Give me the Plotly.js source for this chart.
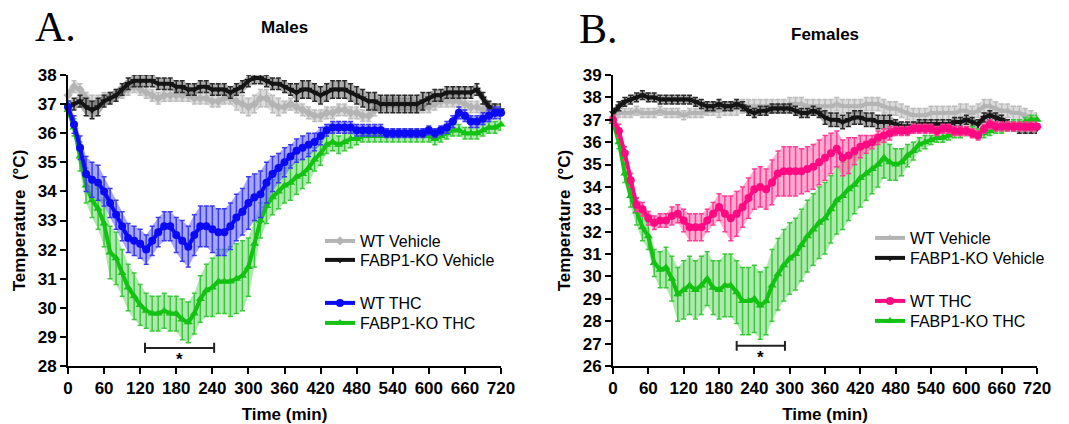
<!DOCTYPE html>
<html><head><meta charset="utf-8">
<script src="https://cdn.plot.ly/plotly-3.0.1.min.js"></script>
<style>html,body{margin:0;padding:0;background:#fff}#chart{width:1069px;height:424px}</style>
</head><body><div id="chart"></div><script>
// time points (min)
const time = [0,10,20,30,40,50,60,70,80,90,100,110,120,130,140,150,160,170,180,190,200,210,220,230,240,250,260,270,280,290,300,310,320,330,340,350,360,370,380,390,400,410,420,430,440,450,460,470,480,490,500,510,520,530,540,550,560,570,580,590,600,610,620,630,640,650,660,670,680,690,700,710,720];
const xTicks = [0,60,120,180,240,300,360,420,480,540,600,660,720];

// ---------- Males ----------
const mWTVeh = [37.3,37.6,37.5,37.2,37.0,37.1,37.2,37.2,37.3,37.4,
  37.5,37.6,37.5,37.4,37.3,37.2,37.3,37.3,37.3,37.3,
  37.3,37.2,37.2,37.2,37.1,37.1,37.2,37.2,37.1,37.0,
  36.9,37.0,37.2,37.2,37.0,36.9,36.9,37.0,36.9,36.8,
  36.7,36.6,36.6,36.7,36.7,36.8,36.8,36.7,36.7,36.6,
  36.6,36.8,37.0,37.1,37.1,37.0,37.0,37.0,36.9,36.9,
  36.9,37.0,37.1,37.1,37.1,37.1,37.0,36.9,36.9,36.8,
  36.8,36.8,36.7];
const mWTVehErr = [0.2,0.2,0.2,0.2,0.3,0.2,0.2,0.2,0.2,0.2,
  0.2,0.2,0.2,0.2,0.2,0.2,0.2,0.2,0.2,0.2,
  0.2,0.2,0.2,0.2,0.2,0.2,0.2,0.2,0.3,0.3,
  0.3,0.3,0.3,0.3,0.3,0.3,0.2,0.2,0.2,0.2,
  0.2,0.2,0.2,0.2,0.2,0.2,0.2,0.2,0.2,0.2,
  0.2,0.2,0.2,0.2,0.2,0.2,0.2,0.2,0.2,0.2,
  0.2,0.2,0.2,0.2,0.2,0.2,0.2,0.2,0.2,0.2,
  0.2,0.2,0.2];
const mKOVeh = [36.9,37.0,37.1,36.9,36.8,36.9,37.1,37.2,37.3,37.5,
  37.7,37.8,37.8,37.8,37.8,37.7,37.7,37.7,37.6,37.6,
  37.5,37.5,37.6,37.6,37.5,37.5,37.5,37.4,37.5,37.6,
  37.8,37.9,37.9,37.8,37.7,37.7,37.6,37.5,37.4,37.5,
  37.5,37.4,37.3,37.4,37.5,37.5,37.5,37.4,37.3,37.2,
  37.1,37.1,37.0,37.0,37.0,37.0,37.0,37.0,37.0,37.1,
  37.2,37.3,37.3,37.4,37.4,37.4,37.4,37.4,37.5,37.2,
  36.9,36.8,36.8];
const mKOVehErr = [0.2,0.2,0.2,0.3,0.3,0.3,0.2,0.2,0.2,0.2,
  0.2,0.2,0.2,0.2,0.2,0.2,0.2,0.2,0.2,0.2,
  0.2,0.2,0.2,0.2,0.2,0.2,0.2,0.2,0.2,0.2,
  0.2,0.2,0.2,0.2,0.2,0.2,0.2,0.2,0.3,0.3,
  0.3,0.3,0.3,0.3,0.3,0.3,0.3,0.3,0.3,0.3,
  0.3,0.3,0.3,0.3,0.3,0.3,0.3,0.3,0.3,0.3,
  0.2,0.2,0.2,0.2,0.2,0.2,0.2,0.2,0.2,0.2,
  0.2,0.2,0.2];
const mWTTHC = [36.9,36.3,35.5,34.6,34.4,34.3,34.0,33.6,33.2,32.8,
  32.4,32.3,32.2,32.0,32.3,32.6,32.8,32.8,32.5,32.3,
  32.1,32.5,32.8,32.8,32.7,32.6,32.6,32.8,33.1,33.3,
  33.6,33.8,33.9,34.3,34.6,34.8,35.0,35.2,35.4,35.5,
  35.6,35.7,35.9,36.1,36.2,36.2,36.2,36.2,36.1,36.1,
  36.1,36.1,36.1,36.0,36.0,36.0,36.0,36.0,36.0,36.0,
  36.1,36.0,36.1,36.2,36.4,36.7,36.6,36.4,36.4,36.5,
  36.6,36.7,36.7];
const mWTTHCErr = [0.2,0.3,0.4,0.6,0.6,0.6,0.5,0.5,0.5,0.5,
  0.5,0.5,0.5,0.5,0.5,0.5,0.5,0.5,0.6,0.7,
  0.7,0.7,0.7,0.7,0.8,0.8,0.8,0.8,0.8,0.8,
  0.9,0.8,0.8,0.7,0.6,0.5,0.5,0.4,0.4,0.4,
  0.4,0.3,0.3,0.2,0.2,0.2,0.2,0.2,0.2,0.2,
  0.2,0.2,0.2,0.15,0.15,0.15,0.15,0.15,0.15,0.15,
  0.15,0.15,0.15,0.2,0.2,0.2,0.2,0.2,0.2,0.2,
  0.2,0.2,0.2];
const mKOTHC = [36.8,36.2,35.2,34.2,33.7,33.4,32.9,31.9,31.7,31.2,
  30.7,30.4,30.1,29.9,29.8,29.8,29.9,29.8,29.8,29.6,
  29.5,29.8,30.3,30.6,30.7,30.9,30.9,30.9,31.0,31.1,
  31.4,32.2,33.0,33.5,33.8,34.0,34.2,34.3,34.5,34.6,
  34.8,35.1,35.3,35.6,35.7,35.6,35.7,35.8,35.8,35.9,
  35.9,35.9,35.9,35.9,35.9,35.9,35.9,35.9,35.9,35.9,
  35.9,35.8,35.9,36.0,36.1,36.1,36.0,36.0,36.0,36.1,
  36.2,36.2,36.3];
const mKOTHCErr = [0.2,0.3,0.5,0.6,0.6,0.7,0.8,0.9,0.9,0.8,
  0.8,0.8,0.7,0.6,0.6,0.6,0.6,0.6,0.6,0.7,
  0.7,0.7,0.8,0.9,1.0,1.1,1.1,1.2,1.2,1.2,
  1.0,0.8,0.6,0.6,0.6,0.6,0.6,0.6,0.6,0.5,
  0.5,0.4,0.4,0.3,0.3,0.3,0.3,0.3,0.2,0.2,
  0.2,0.2,0.2,0.2,0.2,0.2,0.2,0.2,0.2,0.2,
  0.2,0.2,0.2,0.2,0.2,0.2,0.2,0.2,0.2,0.2,
  0.2,0.2,0.2];

// ---------- Females ----------
const fWTVeh = [37.2,37.3,37.3,37.3,37.4,37.3,37.3,37.3,37.4,37.3,
  37.3,37.3,37.2,37.3,37.3,37.3,37.4,37.4,37.4,37.5,
  37.5,37.5,37.6,37.6,37.6,37.6,37.6,37.6,37.6,37.6,
  37.7,37.7,37.7,37.6,37.6,37.6,37.6,37.6,37.7,37.6,
  37.6,37.6,37.6,37.7,37.7,37.7,37.6,37.5,37.5,37.4,
  37.3,37.2,37.2,37.2,37.3,37.3,37.3,37.3,37.3,37.4,
  37.4,37.3,37.4,37.6,37.6,37.5,37.4,37.4,37.3,37.3,
  37.2,37.1,37.0];
const fWTVehErr = [0.2,0.2,0.2,0.2,0.2,0.2,0.2,0.2,0.2,0.2,
  0.2,0.2,0.2,0.2,0.2,0.2,0.2,0.2,0.3,0.3,
  0.3,0.3,0.3,0.3,0.3,0.3,0.3,0.3,0.3,0.3,
  0.3,0.3,0.3,0.3,0.3,0.3,0.3,0.3,0.3,0.3,
  0.3,0.3,0.3,0.3,0.3,0.3,0.3,0.3,0.3,0.3,
  0.3,0.3,0.3,0.3,0.3,0.3,0.3,0.3,0.3,0.3,
  0.3,0.3,0.3,0.3,0.3,0.3,0.3,0.3,0.3,0.3,
  0.3,0.3,0.3];
const fKOVeh = [37.3,37.6,37.8,37.9,38.0,38.1,38.0,38.0,37.9,37.9,
  37.9,37.9,37.9,37.9,37.8,37.7,37.6,37.6,37.7,37.6,
  37.6,37.7,37.6,37.4,37.3,37.4,37.4,37.5,37.5,37.5,
  37.5,37.4,37.3,37.3,37.4,37.3,37.1,37.0,37.0,36.9,
  37.0,37.1,37.1,37.0,37.0,36.9,36.9,36.9,36.8,36.7,
  36.7,36.7,36.8,36.8,36.8,36.8,36.8,36.8,36.9,36.9,
  37.0,36.9,36.8,37.1,37.2,37.1,37.0,36.8,36.7,36.6,
  36.6,36.6,36.6];
const fKOVehErr = [0.2,0.2,0.2,0.2,0.2,0.2,0.2,0.2,0.2,0.2,
  0.2,0.2,0.2,0.2,0.2,0.2,0.2,0.2,0.2,0.2,
  0.2,0.2,0.2,0.2,0.2,0.2,0.2,0.2,0.2,0.2,
  0.2,0.2,0.2,0.2,0.2,0.2,0.3,0.3,0.3,0.3,
  0.3,0.3,0.3,0.3,0.3,0.3,0.3,0.3,0.2,0.2,
  0.2,0.2,0.2,0.2,0.2,0.2,0.2,0.2,0.2,0.2,
  0.2,0.2,0.2,0.2,0.2,0.2,0.2,0.2,0.2,0.2,
  0.2,0.2,0.2];
const fWTTHC = [37.0,36.5,35.5,34.3,33.2,33.0,32.6,32.4,32.5,32.5,
  32.7,32.8,32.5,32.2,32.2,32.2,32.5,32.8,33.1,32.8,
  32.6,32.8,33.1,33.5,33.9,34.0,33.9,34.2,34.6,34.7,
  34.7,34.7,34.7,34.8,34.9,35.1,35.3,35.5,35.7,35.3,
  35.4,35.6,35.8,35.9,36.0,36.2,36.3,36.4,36.5,36.5,
  36.5,36.6,36.6,36.6,36.6,36.5,36.6,36.6,36.5,36.5,
  36.5,36.4,36.3,36.6,36.8,36.7,36.7,36.7,36.7,36.7,
  36.7,36.7,36.7];
const fWTTHCErr = [0.2,0.3,0.3,0.3,0.3,0.3,0.3,0.3,0.3,0.3,
  0.4,0.4,0.5,0.6,0.6,0.6,0.5,0.5,0.6,0.8,
  1.0,1.0,0.9,0.9,0.9,0.9,0.9,1.0,1.0,1.1,
  1.1,1.1,1.0,1.0,1.0,1.0,1.0,0.9,0.8,0.8,
  0.8,0.6,0.5,0.4,0.3,0.3,0.3,0.3,0.2,0.2,
  0.2,0.2,0.2,0.2,0.2,0.2,0.2,0.2,0.2,0.2,
  0.2,0.2,0.2,0.2,0.2,0.2,0.2,0.2,0.2,0.2,
  0.2,0.2,0.2];
const fKOTHC = [36.9,36.0,34.6,33.6,32.9,32.2,31.8,30.6,30.3,30.4,
  29.9,29.2,29.4,29.6,29.4,29.6,29.9,29.5,29.4,29.6,
  29.6,29.3,28.9,28.9,29.0,28.7,28.9,29.6,30.1,30.5,
  30.8,31.0,31.4,31.8,32.1,32.4,32.6,33.0,33.4,33.6,
  33.9,34.1,34.4,34.6,34.8,35.0,35.3,35.1,35.0,35.1,
  35.4,35.6,35.9,36.0,36.1,36.2,36.2,36.3,36.4,36.4,
  36.5,36.5,36.4,36.4,36.5,36.6,36.6,36.7,36.8,36.8,
  36.9,37.0,37.0];
const fKOTHCErr = [0.2,0.3,0.4,0.5,0.6,0.6,0.6,0.6,0.8,0.9,
  1.0,1.2,1.3,1.3,1.3,1.3,1.2,1.2,1.3,1.4,
  1.4,1.4,1.5,1.5,1.5,1.5,1.5,1.6,1.6,1.6,
  1.6,1.6,1.6,1.6,1.6,1.6,1.6,1.5,1.5,1.5,
  1.4,1.3,1.3,1.2,1.1,1.0,0.9,0.8,0.7,0.6,
  0.5,0.4,0.3,0.3,0.2,0.2,0.2,0.2,0.2,0.2,
  0.2,0.2,0.2,0.2,0.2,0.2,0.2,0.2,0.2,0.2,
  0.2,0.2,0.2];

const seriesNames = ['WT Vehicle','FABP1-KO Vehicle','WT THC','FABP1-KO THC'];
// significance bars [start, end] in minutes
const sigA = [128, 243];
const sigB = [210, 292];

const W = 1069, H = 424;
const fx = p => p / W, fy = p => 1 - p / H;
const FONT = 'Liberation Sans, Arial, Helvetica, sans-serif';

const data = [];
function add(x, y, e, name, color, bandColor, errColor, symbol, msize, xa, ya, leg) {
  // shaded SEM band (y - e .. y + e)
  data.push({type: 'scatter', mode: 'lines', x: x, y: y.map((v, i) => v - e[i]), xaxis: xa, yaxis: ya,
    line: {width: 0, color: bandColor}, showlegend: false, hoverinfo: 'skip'});
  data.push({type: 'scatter', mode: 'lines', x: x, y: y.map((v, i) => v + e[i]), xaxis: xa, yaxis: ya,
    line: {width: 0, color: bandColor}, fill: 'tonexty', fillcolor: bandColor, showlegend: false, hoverinfo: 'skip'});
  data.push({type: 'scatter', mode: 'lines+markers', x: x, y: y, name: name,
    xaxis: xa, yaxis: ya, legend: leg, cliponaxis: false,
    line: {color: color, width: 4},
    marker: {color: color, symbol: symbol, size: msize},
    error_y: {type: 'data', array: e, visible: true, color: errColor, thickness: 1.5, width: 2.5}});
}

add(time, mWTVeh, mWTVehErr, seriesNames[0], '#b4b4b4', 'rgba(190,190,190,0.55)', '#bdbdbd', 'diamond', 7, 'x', 'y', 'legend');
add(time, mKOVeh, mKOVehErr, seriesNames[1], '#151515', 'rgba(70,70,70,0.45)', '#2a2a2a', 'triangle-down', 7, 'x', 'y', 'legend2');
add(time, mKOTHC, mKOTHCErr, seriesNames[3], '#14c214', 'rgba(110,215,110,0.55)', '#3cc83c', 'triangle-up', 8, 'x', 'y', 'legend4');
add(time, mWTTHC, mWTTHCErr, seriesNames[2], '#0a0af5', 'rgba(95,95,245,0.55)', '#3a3af0', 'circle', 8, 'x', 'y', 'legend3');
add(time, fWTVeh, fWTVehErr, seriesNames[0], '#b4b4b4', 'rgba(190,190,190,0.55)', '#bdbdbd', 'triangle-up', 7, 'x2', 'y2', 'legend5');
add(time, fKOVeh, fKOVehErr, seriesNames[1], '#151515', 'rgba(70,70,70,0.45)', '#2a2a2a', 'triangle-down', 7, 'x2', 'y2', 'legend6');
add(time, fKOTHC, fKOTHCErr, seriesNames[3], '#14c214', 'rgba(110,215,110,0.55)', '#3cc83c', 'triangle-up', 8, 'x2', 'y2', 'legend8');
add(time, fWTTHC, fWTTHCErr, seriesNames[2], '#ff0a82', 'rgba(255,100,170,0.55)', '#ff3c96', 'circle', 8, 'x2', 'y2', 'legend7');

function xax(dom, anchor) {
  return {domain: dom, anchor: anchor, range: [0, 720], tickvals: xTicks, ticktext: xTicks.map(String),
    showline: true, linewidth: 2, linecolor: '#000', ticks: 'outside', ticklen: 6, tickwidth: 2, tickcolor: '#000',
    showgrid: false, zeroline: false, automargin: false,
    tickfont: {family: FONT, size: 17, color: '#000', weight: 'bold'},
    title: {text: 'Time (min)', font: {family: FONT, size: 17, color: '#000', weight: 'bold'}, standoff: 12}};
}
function yax(dom, anchor, rng) {
  return {domain: dom, anchor: anchor, range: rng, dtick: 1, tick0: 0,
    showline: true, linewidth: 2, linecolor: '#000', ticks: 'outside', ticklen: 6, tickwidth: 2, tickcolor: '#000',
    showgrid: false, zeroline: false, automargin: false,
    tickfont: {family: FONT, size: 17, color: '#000', weight: 'bold'},
    title: {text: 'Temperature\u00a0\u00a0(°C)', font: {family: FONT, size: 17, color: '#000', weight: 'bold'}, standoff: 8}};
}
// one legend per entry, placed at the entry's centre (pixels)
function leg(x, yc) {
  return {x: fx(x), y: fy(yc - 16), xanchor: 'left', yanchor: 'top', bgcolor: 'rgba(0,0,0,0)',
    font: {family: FONT, size: 16, color: '#000'}, itemwidth: 30};
}
const yDom = [fy(366), fy(75)];

const layout = {
  width: W, height: H, margin: {l: 0, r: 0, t: 0, b: 0}, paper_bgcolor: '#fff', plot_bgcolor: 'rgba(0,0,0,0)',
  showlegend: true,
  xaxis: xax([fx(68), fx(501)], 'y'),
  yaxis: yax(yDom, 'x', [28, 38]),
  xaxis2: xax([fx(613), fx(1037)], 'y2'),
  yaxis2: yax(yDom, 'x2', [26, 39]),
  legend: leg(320, 240), legend2: leg(320, 259), legend3: leg(320, 302), legend4: leg(320, 322),
  legend5: leg(870, 237), legend6: leg(870, 257), legend7: leg(870, 300), legend8: leg(870, 320),
  shapes: [
    {type: 'line', xref: 'x', yref: 'y', x0: sigA[0], x1: sigA[1], y0: 28.62, y1: 28.62, line: {color: '#222', width: 2}},
    {type: 'line', xref: 'x', yref: 'y', x0: sigA[0], x1: sigA[0], y0: 28.45, y1: 28.8, line: {color: '#222', width: 2}},
    {type: 'line', xref: 'x', yref: 'y', x0: sigA[1], x1: sigA[1], y0: 28.45, y1: 28.8, line: {color: '#222', width: 2}},
    {type: 'line', xref: 'x2', yref: 'y2', x0: sigB[0], x1: sigB[1], y0: 26.9, y1: 26.9, line: {color: '#222', width: 2}},
    {type: 'line', xref: 'x2', yref: 'y2', x0: sigB[0], x1: sigB[0], y0: 26.68, y1: 27.12, line: {color: '#222', width: 2}},
    {type: 'line', xref: 'x2', yref: 'y2', x0: sigB[1], x1: sigB[1], y0: 26.68, y1: 27.12, line: {color: '#222', width: 2}}
  ],
  annotations: [
    {text: 'A.', xref: 'paper', yref: 'paper', x: fx(33), y: fy(27), xanchor: 'left', yanchor: 'middle', showarrow: false,
     font: {family: 'Liberation Serif, Times New Roman, serif', size: 42, color: '#000'}},
    {text: 'B.', xref: 'paper', yref: 'paper', x: fx(577), y: fy(29), xanchor: 'left', yanchor: 'middle', showarrow: false,
     font: {family: 'Liberation Serif, Times New Roman, serif', size: 42, color: '#000'}},
    {text: 'Males', xref: 'paper', yref: 'paper', x: fx(284), y: fy(28), xanchor: 'center', yanchor: 'middle', showarrow: false,
     font: {family: FONT, size: 17, color: '#000', weight: 'bold'}},
    {text: 'Females', xref: 'paper', yref: 'paper', x: fx(825), y: fy(35), xanchor: 'center', yanchor: 'middle', showarrow: false,
     font: {family: FONT, size: 17, color: '#000', weight: 'bold'}},
    {text: '*', xref: 'x', yref: 'paper', x: (sigA[0] + sigA[1]) / 2, y: fy(359), xanchor: 'center', yanchor: 'middle', showarrow: false,
     font: {family: FONT, size: 17, color: '#000', weight: 'bold'}},
    {text: '*', xref: 'x2', yref: 'paper', x: (sigB[0] + sigB[1]) / 2, y: fy(357), xanchor: 'center', yanchor: 'middle', showarrow: false,
     font: {family: FONT, size: 17, color: '#000', weight: 'bold'}}
  ]
};

Plotly.newPlot('chart', data, layout, {displayModeBar: false, staticPlot: true});
</script></body></html>
